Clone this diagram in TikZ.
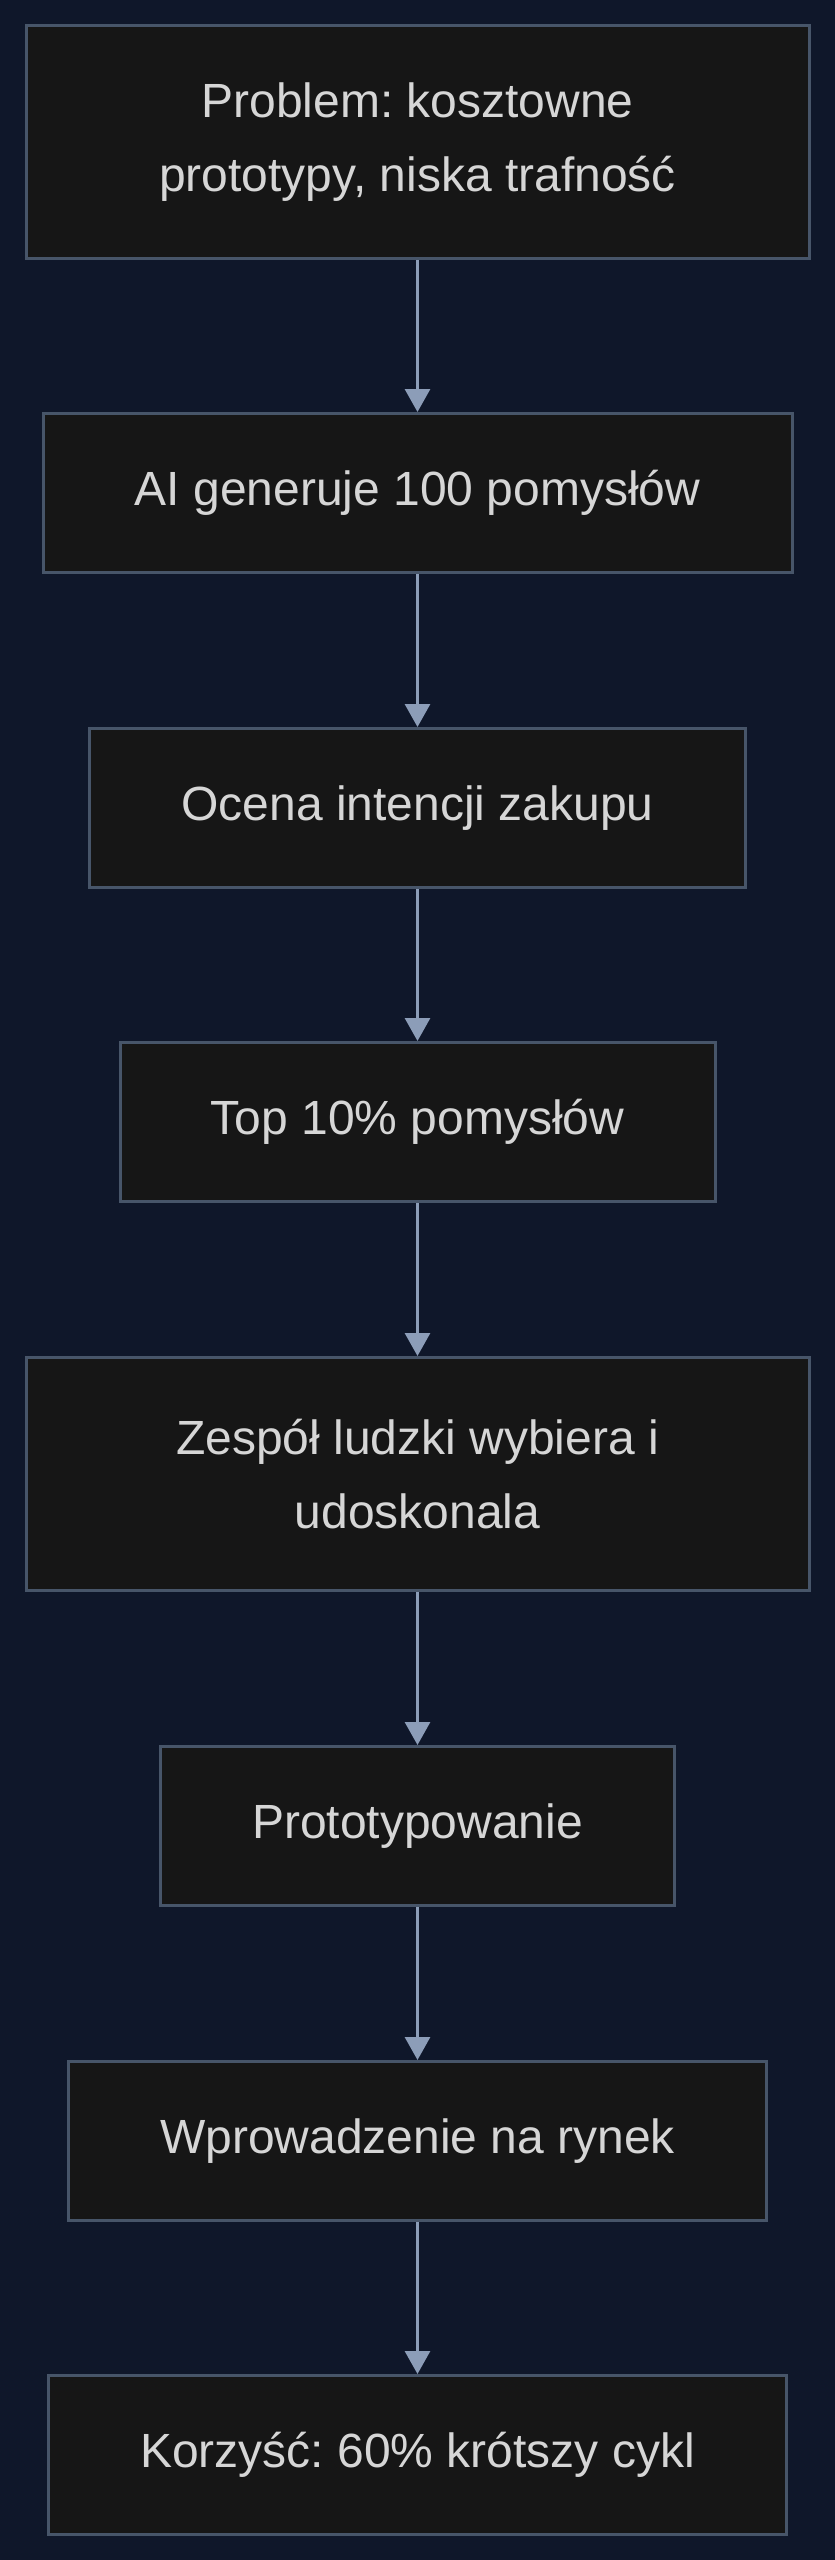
\documentclass[tikz,border=0pt]{standalone}
\usepackage{fontspec}
\setmainfont{Liberation Sans}
\usetikzlibrary{arrows.meta}
\frenchspacing

\definecolor{bgnavy}{HTML}{0F172A}
\definecolor{boxfill}{HTML}{161616}
\definecolor{boxline}{HTML}{475569}
\definecolor{arrowgray}{HTML}{8C9DB8}
\definecolor{textgray}{HTML}{D6D6D6}

\begin{document}
\begin{tikzpicture}[x=1pt,y=-1pt]

      \fill[bgnavy] (0,0) rectangle (835,2560);
      \useasboundingbox (0,0) rectangle (835,2560);

      \begin{scope}[every node/.style={rectangle,draw=boxline,fill=boxfill,line width=3pt,
          text=textgray,align=center,minimum height=159pt,
          font=\fontsize{48}{73.5}\selectfont}]
        \node[minimum width=783pt,minimum height=233pt] (1) at (417.5,142)
          {Problem: kosztowne\\prototypy, niska trafność};
        \node[minimum width=749pt] (2) at (417.5,493)  {AI generuje 100 pomysłów};
        \node[minimum width=656pt] (3) at (417.5,808)  {Ocena intencji zakupu};
        \node[minimum width=595pt] (4) at (417.5,1122) {Top 10\% pomysłów};
        \node[minimum width=783pt,minimum height=233pt] (5) at (417.5,1474)
          {Zespół ludzki wybiera i\\udoskonala};
        \node[minimum width=514pt] (6) at (417.5,1826) {Prototypowanie};
        \node[minimum width=698pt] (7) at (417.5,2141) {Wprowadzenie na rynek};
        \node[minimum width=738pt] (8) at (417.5,2455) {Korzyść: 60\% krótszy cykl};
      \end{scope}

      \begin{scope}[every edge/.style={draw=arrowgray,line width=3pt,
          -{Triangle[length=23pt,width=25pt]}}]
        \path (1) edge (2);
        \path (2) edge (3);
        \path (3) edge (4);
        \path (4) edge (5);
        \path (5) edge (6);
        \path (6) edge (7);
        \path (7) edge (8);
      \end{scope}

    \end{tikzpicture}
\end{document}
